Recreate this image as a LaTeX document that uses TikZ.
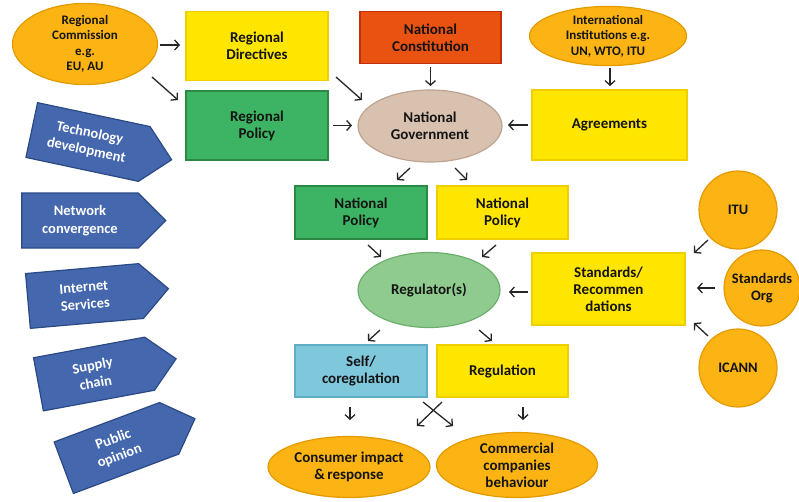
\documentclass[tikz,border=0pt]{standalone}
\usepackage{fontspec}
\setmainfont{Carlito}
\usetikzlibrary{shapes.geometric,shapes.symbols,arrows.meta,calc}
\definecolor{ylw}{HTML}{FFE600}
\definecolor{ylwb}{HTML}{EFCF00}
\definecolor{grn}{HTML}{3DB463}
\definecolor{grnb}{HTML}{2A8A45}
\definecolor{red}{HTML}{EA5212}
\definecolor{redb}{HTML}{C0300A}
\definecolor{tan}{HTML}{D9C1AF}
\definecolor{tanb}{HTML}{BCA392}
\definecolor{org}{HTML}{FBB414}
\definecolor{orgb}{HTML}{E39A00}
\definecolor{lgrn}{HTML}{8FCB8F}
\definecolor{lgrnb}{HTML}{6CAF6C}
\definecolor{lblu}{HTML}{7FC7DB}
\definecolor{lblub}{HTML}{5DAEC6}
\definecolor{blu}{HTML}{4467AE}
\definecolor{blub}{HTML}{2B4A85}
\definecolor{txt}{HTML}{141414}
\tikzset{
  rbox/.style={draw, line width=1.2pt, rectangle, align=center, inner sep=0pt, text=txt,
    font=\bfseries\fontsize{15}{17}\selectfont},
  ell/.style={draw, line width=1.2pt, ellipse, align=center, inner sep=0pt, text=txt,
    font=\bfseries\fontsize{15}{17}\selectfont},
  orgell/.style={ell, fill=org, draw=orgb},
  sml/.style={font=\bfseries\fontsize{13}{15.5}\selectfont},
  circ/.style={draw=orgb, fill=org, line width=1.2pt, circle, align=center, inner sep=0pt, text=txt,
    font=\bfseries\fontsize{14.5}{16.5}\selectfont},
  sig/.style={draw=blub, fill=blu, line width=1.2pt, signal, signal to=east, signal pointer angle=90,
    align=center, inner sep=0pt, text=white, font=\bfseries\fontsize{14.5}{17.5}\selectfont},
  arr/.style={draw=black!85, line width=1.3pt, -{Straight Barb[length=4.5pt,width=10pt]}},
}
\begin{document}
\begin{tikzpicture}[x=1pt,y=1pt]
\useasboundingbox (0,0) rectangle (799,-501);
% top row
\node[orgell, sml, minimum width=145, minimum height=68] (rc) at (85,-44) {Regional\\Commission\\e.g.\\EU, AU};
\node[rbox, fill=ylw, draw=ylwb, minimum width=142, minimum height=69] (rd) at (257,-46) {Regional\\Directives};
\node[rbox, fill=grn, draw=grnb, minimum width=142, minimum height=69] (rp) at (257,-125.5) {Regional\\Policy};
\node[rbox, fill=red, draw=redb, minimum width=141, minimum height=52] (nc) at (430.5,-37.5) {National\\Constitution};
\node[ell, fill=tan, draw=tanb, minimum width=144, minimum height=72] (ng) at (430,-126) {National\\Government};
\node[orgell, sml, minimum width=157, minimum height=56] (ii) at (608,-36) {International\\Institutions e.g.\\UN, WTO, ITU};
\node[rbox, fill=ylw, draw=ylwb, minimum width=155, minimum height=70] (agr) at (609.5,-125) {Agreements};
% middle
\node[rbox, fill=grn, draw=grnb, minimum width=132, minimum height=53] (npg) at (361,-212.5) {National\\Policy};
\node[rbox, fill=ylw, draw=ylwb, minimum width=131, minimum height=53] (npy) at (502.5,-212.5) {National\\Policy};
\node[ell, fill=lgrn, draw=lgrnb, minimum width=142, minimum height=75] (reg) at (429,-290) {Regulator(s)};
\node[rbox, fill=ylw, draw=ylwb, minimum width=153, minimum height=72] (std) at (608.5,-289) {Standards/\\Recommen\\dations};
\node[circ, minimum size=78] (itu) at (738,-210) {ITU};
\node[circ, minimum size=76] (so) at (762,-288) {Standards\\Org};
\node[circ, minimum size=78] (icann) at (738,-368) {ICANN};
% bottom
\node[rbox, fill=lblu, draw=lblub, minimum width=132, minimum height=52] (self) at (361,-371) {Self/\\coregulation};
\node[rbox, fill=ylw, draw=ylwb, minimum width=131, minimum height=52] (regn) at (502.5,-371) {Regulation};
\node[orgell, minimum width=162, minimum height=61] (cons) at (349,-467) {Consumer impact\\\&\,response};
\node[orgell, minimum width=161, minimum height=65] (comm) at (517,-465) {Commercial\\companies\\behaviour};
% blue signals
\node[sig, minimum width=143, minimum height=56, rotate=-12] (tech) at (88,-142) {Technology\\development};
\node[sig, minimum width=144, minimum height=55] (net) at (80,-220.5) {Network\\convergence};
\node[sig, minimum width=141, minimum height=55, rotate=5] (inet) at (84.5,-296) {Internet\\Services};
\node[sig, minimum width=140, minimum height=54, rotate=10.5] (sup) at (94,-374) {Supply\\chain};
\node[sig, minimum width=140, minimum height=55, rotate=20.5] (pub) at (116.5,-448) {Public\\opinion};
% arrows
\draw[arr] (rc) ++(75,-1) -- ++(20,0);
\draw[arr] (rc) ++(67,-33) -- ++(26,-23);
\draw[arr] (rd) ++(79,-31) -- ++(26,-23);
\draw[arr] (rp) ++(76,0) -- ++(19,0);
\draw[arr] (nc) ++(0,-29.5) -- ++(0,-19);
\draw[arr] (ii) ++(2,-32) -- ++(0,-18);
\draw[arr] (agr) ++(-81.5,0) -- ++(-20,0);
\draw[arr] (ng) ++(-20,-42) -- ++(-13,-12);
\draw[arr] (ng) ++(25,-42) -- ++(12,-12);
\draw[arr] (npg) ++(7,-32.5) -- ++(13,-12);
\draw[arr] (npy) ++(-6.5,-32.5) -- ++(-14,-12);
\draw[arr] (std) ++(-80.5,-3) -- ++(-19,0);
\draw[arr] (itu) ++(-30,-30) -- ++(-14,-13);
\draw[arr] (so) ++(-47,0) -- ++(-18,0);
\draw[arr] (icann) ++(-30,32) -- ++(-14,13);
\draw[arr] (reg) ++(-49,-40) -- ++(-12,-11);
\draw[arr] (reg) ++(50,-40) -- ++(13,-11);
\draw[arr] (self) ++(-11,-36) -- ++(0,-13);
\draw[arr] (regn) ++(20.5,-36) -- ++(0,-13);
\draw[arr] (self) ++(62,-31) -- ++(30,-24);
\draw[arr] (regn) ++(-60.5,-31) -- ++(-25,-24);
\end{tikzpicture}
\end{document}
